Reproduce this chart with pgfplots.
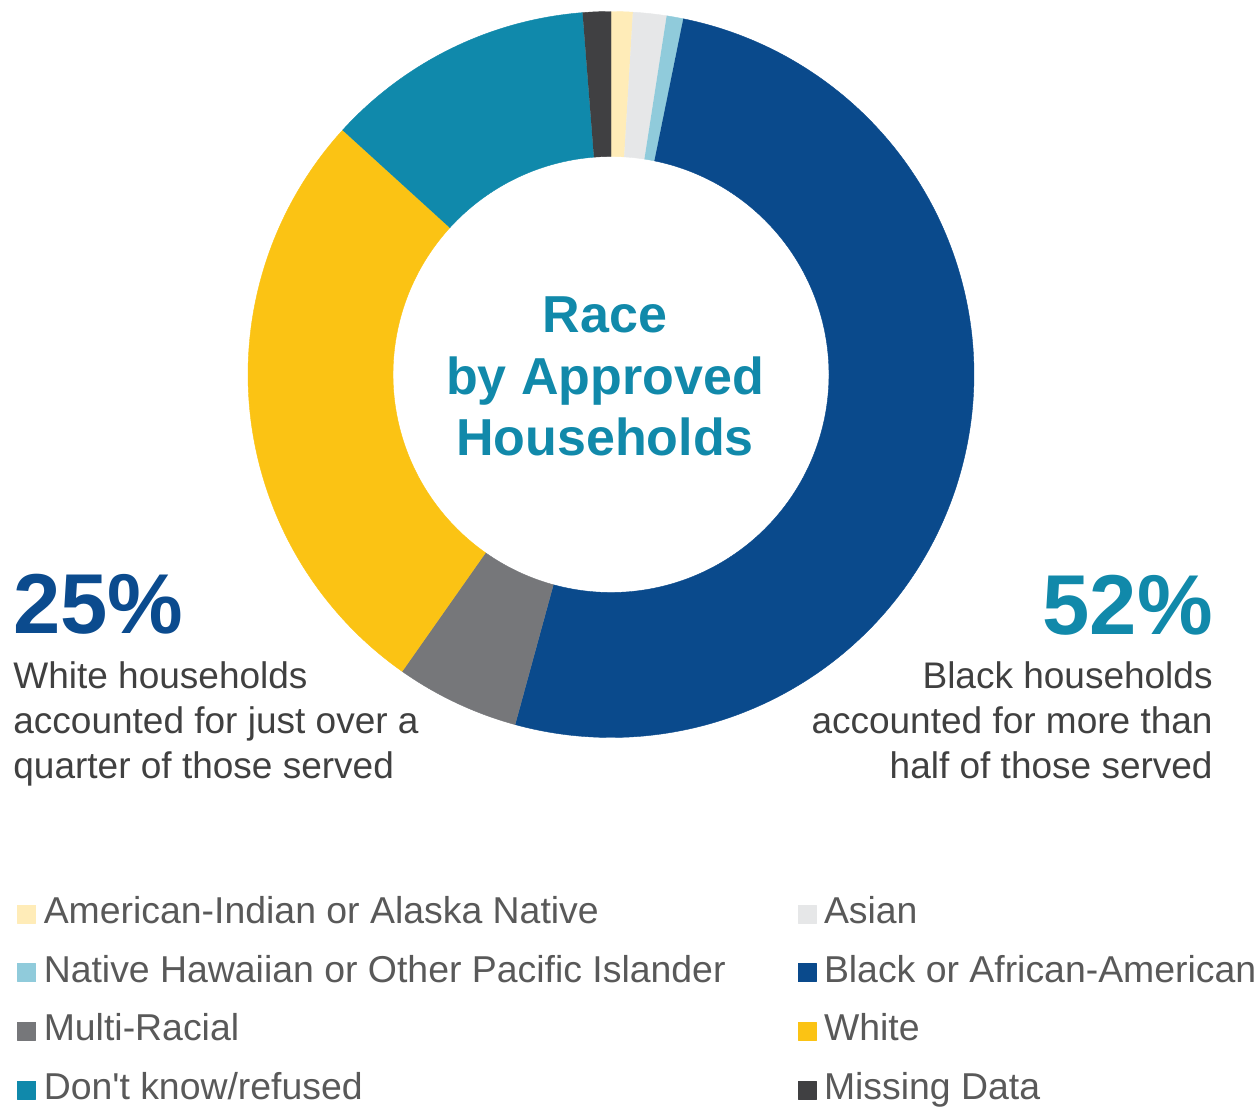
\documentclass[border=0pt]{standalone}
\usepackage{pgfplots}
\pgfplotsset{compat=1.18}
\usepackage{fontspec}
\setmainfont{Liberation Sans}
\definecolor{cAI}{HTML}{FFECB8}
\definecolor{cAsian}{HTML}{E6E7E8}
\definecolor{cNH}{HTML}{90CBDB}
\definecolor{cBlack}{HTML}{0A4A8C}
\definecolor{cMulti}{HTML}{76777A}
\definecolor{cWhite}{HTML}{FBC314}
\definecolor{cDK}{HTML}{1089AB}
\definecolor{cMiss}{HTML}{404042}
\definecolor{tealtxt}{HTML}{1189AA}
\definecolor{bluetxt}{HTML}{0B4B8E}
\definecolor{bodytxt}{HTML}{404040}
\definecolor{legtxt}{HTML}{595959}

\newcommand\cum{0}
% #1 colour, #2 percentage, #3 legend label
\newcommand\slice[3]{%
  \pgfmathsetmacro\sa{\cum*3.6}%
  \pgfmathsetmacro\sb{(\cum+#2)*3.6}%
  \pgfmathsetmacro\newcum{\cum+#2}%
  \xdef\cum{\newcum}%
  \edef\doslice{\noexpand\addplot[fill=#1, draw=#1, line width=0.2pt, line join=round, domain=0:2, samples=401]
    ({611+(x<1.0025 ? 363*sin(\sa+(\sb-\sa)*min(x,1)) : 218*sin(\sb-(\sb-\sa)*max(x-1.005,0)/0.995))},
     {374.5-(x<1.0025 ? 363*cos(\sa+(\sb-\sa)*min(x,1)) : 218*cos(\sb-(\sb-\sa)*max(x-1.005,0)/0.995))});}%
  \doslice
  \addlegendentry{#3}%
}

\begin{document}
\begin{tikzpicture}
\begin{axis}[
  x=0.5pt, y=0.5pt,
  xmin=0, xmax=1259, ymin=0, ymax=1107,
  y dir=reverse,
  hide axis, clip=false, scale only axis,
  legend columns=2,
  legend cell align=left,
  legend image code/.code={\fill[#1] (0pt,-4.5pt) rectangle (9pt,4.5pt);},
  legend style={
    at={(axis cs:17,896)}, anchor=north west,
    draw=none, fill=none, inner sep=0pt,
    font=\fontsize{18.7}{22}\selectfont, text=legtxt,
    nodes={inner sep=0pt, text height=13.5pt, text depth=4pt},
    row sep=11.8pt,
    /tikz/every odd column/.append style={column sep=4pt},
    /tikz/every even column/.append style={column sep=36pt},
  },
]
\slice{cAI}{0.96}{American-Indian or Alaska Native}
\slice{cAsian}{1.49}{Asian}
\slice{cNH}{0.74}{Native Hawaiian or Other Pacific Islander}
\slice{cBlack}{51.06}{Black or African-American}
\slice{cMulti}{5.50}{Multi-Racial}
\slice{cWhite}{27.00}{White}
\slice{cDK}{12.00}{Don\textquotesingle t know/refused}
\slice{cMiss}{1.25}{Missing Data}

% centre title
\node[anchor=base, font=\fontsize{26}{30}\bfseries, text=tealtxt] at (axis cs:605,333) {Race};
\node[anchor=base, font=\fontsize{26}{30}\bfseries, text=tealtxt] at (axis cs:605,394) {by Approved};
\node[anchor=base, font=\fontsize{26}{30}\bfseries, text=tealtxt] at (axis cs:605,455) {Households};

% left annotation
\node[anchor=base west, inner sep=0pt, font=\fontsize{42.5}{48}\bfseries, text=bluetxt] at (axis cs:13,633) {25\%};
\node[anchor=base west, inner sep=0pt, font=\fontsize{18.5}{22}\selectfont, text=bodytxt] at (axis cs:13,688) {White households};
\node[anchor=base west, inner sep=0pt, font=\fontsize{18.5}{22}\selectfont, text=bodytxt] at (axis cs:13,733) {accounted for just over a};
\node[anchor=base west, inner sep=0pt, font=\fontsize{18.5}{22}\selectfont, text=bodytxt] at (axis cs:13,778) {quarter of those served};

% right annotation
\node[anchor=base east, inner sep=0pt, font=\fontsize{42.5}{48}\bfseries, text=tealtxt] at (axis cs:1213,634) {52\%};
\node[anchor=base east, inner sep=0pt, font=\fontsize{18.5}{22}\selectfont, text=bodytxt] at (axis cs:1213,688) {Black households};
\node[anchor=base east, inner sep=0pt, font=\fontsize{18.5}{22}\selectfont, text=bodytxt] at (axis cs:1213,733) {accounted for more than};
\node[anchor=base east, inner sep=0pt, font=\fontsize{18.5}{22}\selectfont, text=bodytxt] at (axis cs:1213,778) {half of those served};
\end{axis}
\pgfresetboundingbox
\useasboundingbox (current axis.south west) rectangle (current axis.north east);
\end{tikzpicture}
\end{document}
